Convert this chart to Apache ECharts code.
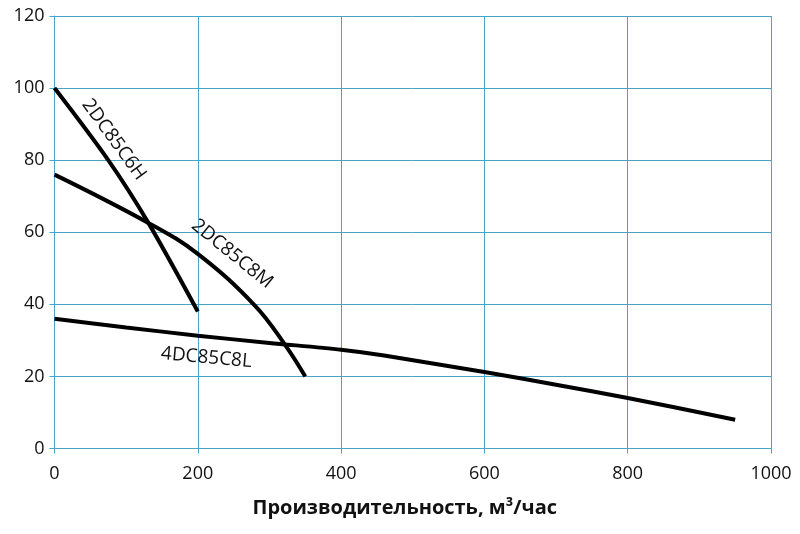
<!DOCTYPE html>
<html><head><meta charset="utf-8">
<script src="https://cdn.jsdelivr.net/npm/echarts@6/dist/echarts.min.js"></script>
<style>html,body{margin:0;padding:0;background:#fff}#c{width:800px;height:534px}</style>
</head><body><div id="c"></div>
<script>
const xTitle = 'Производительность, м³/час';
const s6H = [[0,100],[75,80],[131,62.6],[200,38]];
const s8M = [[0,76],[131,62.6],[200,54],[280,39.6],[322,28.7],[350,20]];
const s8L = [[0,36],[100,33.6],[200,31.3],[300,29.3],[400,27.4],[460,25.8],[600,21.2],[700,17.7],[800,14],[950,8]];
const seriesNames = ['2DC85C6H','2DC85C8M','4DC85C8L'];
const labelAnchors = [[83,85.7],[248,54],[212,25.2]];
const labelAngles = [-54,-39,-5];

const chart = echarts.init(document.getElementById('c'));
const grid = '#4ba3c6';
const font = 'Open Sans';
const mk = (name, data, smooth) => ({
  name, type:'line', data, smooth, symbol:'none',
  lineStyle:{color:'#000', width:4}, z:3
});
chart.setOption({
  animation:false,
  grid:{left:54.5, right:29, top:16, bottom:85.5},
  xAxis:{type:'value', min:0, max:1000, interval:200,
    name:xTitle, nameLocation:'middle', nameGap:50,
    nameTextStyle:{fontFamily:font, fontWeight:'bold', fontSize:20, color:'#111', padding:[0,16,0,0]},
    axisLine:{show:true, lineStyle:{color:grid, width:1}},
    axisTick:{show:true, length:5, lineStyle:{color:grid}},
    splitLine:{show:true, lineStyle:{color:grid, width:1}},
    axisLabel:{fontFamily:font, fontSize:18, color:'#111', margin:16, formatter:v=>String(v)}},
  yAxis:{type:'value', min:0, max:120, interval:20,
    axisLine:{show:true, lineStyle:{color:grid, width:1}},
    axisTick:{show:true, length:5, lineStyle:{color:grid}},
    splitLine:{show:true, lineStyle:{color:grid, width:1}},
    axisLabel:{fontFamily:font, fontSize:18, color:'#111', margin:10, formatter:v=>String(v)}},
  series:[mk(seriesNames[0], s6H, 0.3), mk(seriesNames[1], s8M, 0.4), mk(seriesNames[2], s8L, 0.3)]
});
const g = seriesNames.map((n,i)=>{
  const p = chart.convertToPixel({gridIndex:0}, labelAnchors[i]);
  return {type:'text', x:p[0], y:p[1], rotation:labelAngles[i]*Math.PI/180, z:10,
    style:{text:n, fontFamily:font, fontSize:19, fill:'#111', align:'center', verticalAlign:'middle'}};
});
chart.setOption({graphic:g});
</script></body></html>
